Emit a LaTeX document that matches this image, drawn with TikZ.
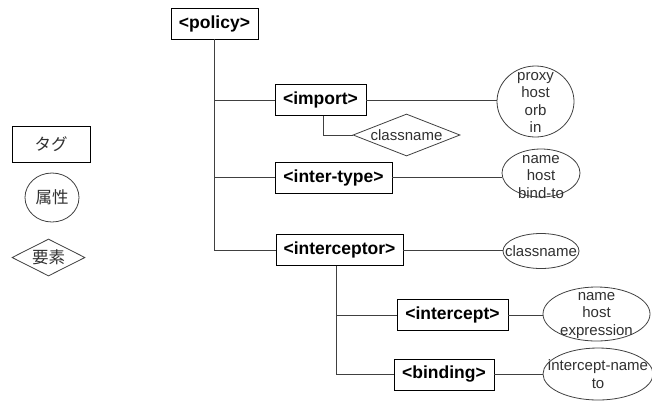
\documentclass[tikz,border=0pt]{standalone}
\usepackage{fontspec}
\setmainfont{Liberation Sans}
\newfontfamily\cjk{Noto Sans CJK JP}
\usetikzlibrary{shapes.geometric}
\definecolor{lineclr}{HTML}{404040}
\definecolor{txtclr}{HTML}{303030}
\begin{document}
\begin{tikzpicture}[x=1pt,y=-1pt,
  tag/.style={draw=black,line width=0.9pt,fill=white,rectangle,inner sep=0pt,
    minimum height=31pt,font=\fontsize{17.5}{19}\selectfont\bfseries},
  attr/.style={draw=lineclr,line width=0.8pt,ellipse,inner sep=0pt},
  attrtext/.style={text=txtclr,align=center,inner sep=0pt,
    font=\fontsize{15}{17.5}\selectfont},
  elem/.style={draw=lineclr,line width=0.8pt,diamond,inner sep=0pt,
    text=txtclr,font=\fontsize{15}{17}\selectfont},
  legtext/.style={text=txtclr,font=\cjk\fontsize{16.5}{18}\selectfont},
  link/.style={draw=lineclr,line width=1pt}]
\useasboundingbox (0,0) rectangle (652,400);

% element tags
\node[tag,minimum width=87pt]  (policy)      at (214.5,23.5) {<policy>};
\node[tag,minimum width=91pt]  (import)      at (320.5,100)  {<import>};
\node[tag,minimum width=117pt] (intertype)   at (333.5,177.5){<inter-type>};
\node[tag,minimum width=127pt] (interceptor) at (339.5,250)  {<interceptor>};
\node[tag,minimum width=111pt] (intercept)   at (452.5,315)  {<intercept>};
\node[tag,minimum width=100pt] (binding)     at (444,374.5)  {<binding>};

% child element of <import>
\node[elem,minimum width=107pt,minimum height=42pt,aspect=2.55] (cls) at (406.5,135) {classname};

% attribute ellipses
\node[attr,minimum width=77pt,minimum height=71pt] (aimport) at (535.5,101.5) {};
\node[attrtext] at (535.5,102.5) {proxy\\host\\orb\\in};
\node[attr,minimum width=78pt,minimum height=48pt] (aintertype) at (541,173) {};
\node[attrtext] at (541,177) {name\\host\\bind-to};
\node[attr,minimum width=76pt,minimum height=35pt] (ainterceptor) at (541,251) {};
\node[attrtext] at (541,251) {classname};
\node[attr,minimum width=107pt,minimum height=54pt] (aintercept) at (596.5,314) {};
\node[attrtext] at (596.5,315.5) {name\\host\\expression};
\node[attr,minimum width=110pt,minimum height=52pt] (abinding) at (598,374) {};
\node[attrtext] at (598,374) {intercept-name\\to};

% tree connectors
\draw[link] (policy.south) |- (interceptor.west);
\draw[link] (policy.south |- import.west) -- (import.west);
\draw[link] (policy.south |- intertype.west) -- (intertype.west);
\draw[link] ([xshift=2.5pt]import.south) |- (cls.west);
\draw[link] ([xshift=-3.5pt]interceptor.south) |- (binding.west);
\draw[link] ([xshift=-3.5pt]interceptor.south |- intercept.west) -- (intercept.west);

% attribute connectors
\draw[link] (import.east) -- (import.east -| aimport.west);
\draw[link] (intertype.east) -- (intertype.east -| aintertype.west);
\draw[link] (interceptor.east) -- (interceptor.east -| ainterceptor.west);
\draw[link] (intercept.east) -- (intercept.east -| aintercept.west);
\draw[link] (binding.east) -- (binding.east -| abinding.west);

% legend
\node[draw=black,line width=0.8pt,minimum width=78pt,minimum height=36pt,inner sep=0pt,legtext] (legtag) at (51,144) {タグ};
\node[attr,minimum width=54pt,minimum height=49pt,legtext] (legattr) at (52,197.5) {属性};
\node[elem,minimum width=73pt,minimum height=37pt,aspect=2,legtext] (legelem) at (48.5,257.5) {要素};
\end{tikzpicture}
\end{document}
